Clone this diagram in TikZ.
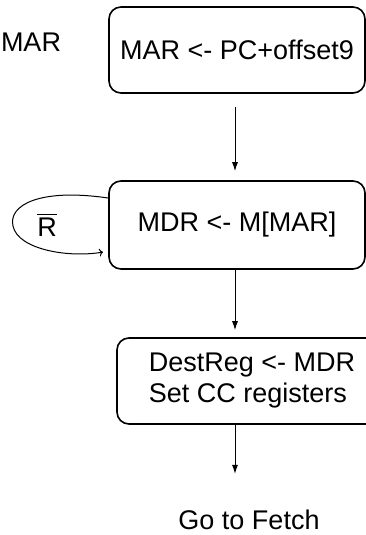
\documentclass[tikz,border=0pt]{standalone}
\usepackage{amsmath}
\usepackage{fontspec}
\setmainfont{Liberation Sans}
\usetikzlibrary{arrows, arrows.meta, positioning}

\tikzset{
	stbox/.style={draw, rounded corners=12pt, line width=1.6pt, minimum width=256pt, minimum height=86pt, inner sep=3pt, font=\fontsize{27}{31}\selectfont},
	plain/.style={inner sep=0pt, font=\fontsize{27}{31}\selectfont},
	flow/.style={-{Latex[length=9pt,width=6pt]}, line width=1pt}
}

\begin{document}
\begin{tikzpicture}[x=1pt,y=-1pt]
		\useasboundingbox (0,0) rectangle (366,535);
		\draw (237,50) node[stbox] (mar){MAR <- PC+offset9}
		(237,225) node[stbox, minimum height=88pt] (mdr){\raisebox{-6pt}{MDR <- M[MAR]}}
		(252,381) node[stbox, minimum width=270pt, align=left] (dest){DestReg <- MDR\\Set CC registers}
		(249,520) node[plain] (fetch){Go to Fetch}
		(31,42) node[plain] (cut){MAR}
		(47,225) node[plain] (rbar){$\overline{\mbox{R}}$};
		\coordinate (loopout) at (108,198);
		\coordinate (loopin) at (103,252);

		\draw[flow, shorten <=13pt, shorten >=9pt] (mar.south -| 235,0) -- (mdr.north -| 235,0);
		\draw[flow, shorten >=7pt] (mdr.south -| 235,0) -- (dest.north -| 235,0);
		\draw[flow, shorten >=36pt] (dest.south -| 235,0) -- (fetch.north -| 235,0);
		\draw[->, line width=1pt] (loopout) .. controls (40,188) and (8,205) .. (13,226) .. controls (18,250) and (70,258) .. (loopin);
	\end{tikzpicture}
\end{document}
